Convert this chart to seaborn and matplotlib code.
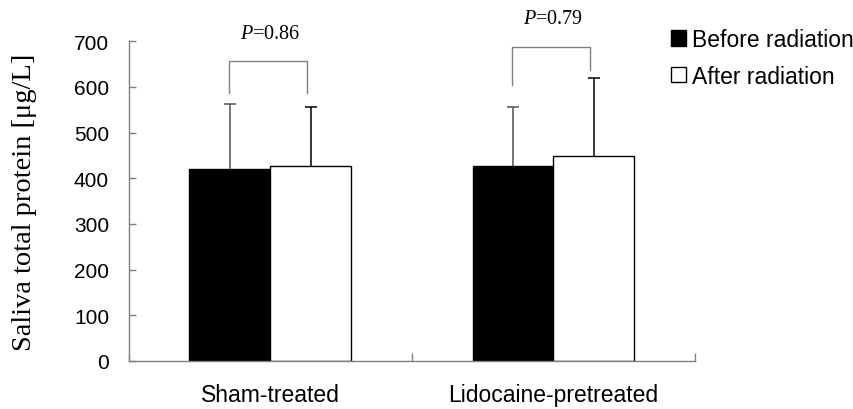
import matplotlib
matplotlib.use('Agg')
from matplotlib import pyplot as plt
import matplotlib.patches as mpatches
import numpy as np
import pandas as pd
import seaborn as sns

# values
groups = ['Sham-treated', 'Lidocaine-pretreated']
phases = ['Before radiation', 'After radiation']
before_mean = [420, 427]
after_mean = [426, 449]
before_sd = [143, 130]
after_sd = [130, 170]
p_values = ['0.86', '0.79']

plt.rcParams['font.family'] = ['Liberation Sans', 'DejaVu Sans']
plt.rcParams['mathtext.fontset'] = 'custom'
plt.rcParams['mathtext.it'] = 'Liberation Serif:italic'
plt.rcParams['mathtext.rm'] = 'Liberation Serif'

df = pd.DataFrame({
    'group': groups * 2,
    'phase': [phases[0]] * 2 + [phases[1]] * 2,
    'value': before_mean + after_mean,
    'sd': before_sd + after_sd,
})

fig = plt.figure(figsize=(8.54, 4.10), dpi=100)
ax = fig.add_axes([0.1505, 0.1171, 0.6633, 0.7797])

palette = {phases[0]: 'black', phases[1]: 'white'}
sns.barplot(data=df, x='group', y='value', hue='phase', order=groups,
            hue_order=phases, palette=palette, width=0.57, errorbar=None,
            edgecolor='black', linewidth=1.0, legend=False, ax=ax)

# error bars (upper only) at the centre of each bar
err_colors = {phases[0]: '#505050', phases[1]: 'black'}
centers = {}
for i, ph in enumerate(phases):
    sub = df[df['phase'] == ph].set_index('group').loc[groups]
    xs = np.arange(len(groups)) + (i - 0.5) * 0.57 / 2
    centers[ph] = xs
    _, caps, _ = ax.errorbar(xs, sub['value'],
                             yerr=[np.zeros(len(xs)), sub['sd']],
                             fmt='none', ecolor=err_colors[ph], elinewidth=1.1,
                             capsize=4, capthick=1.1, zorder=3)
    # hide the cap sitting on top of the bar
    for cap in caps:
        if np.allclose(cap.get_ydata(), sub['value'].values):
            cap.set_visible(False)

# significance brackets
bracket_top = [656, 688]
bracket_feet = [(587, 587), (604, 638)]
for k in range(len(groups)):
    x0 = centers[phases[0]][k] - 0.004
    x1 = centers[phases[1]][k] - 0.014
    y = bracket_top[k]
    ax.plot([x0, x0, x1, x1], [bracket_feet[k][0], y, y, bracket_feet[k][1]],
            color='#808080', lw=1.0, clip_on=False)
    ax.text(k, y + 52, r'$\mathit{P}$=' + p_values[k], ha='center',
            va='baseline', fontsize=14.5, family='Liberation Serif',
            clip_on=False)

ax.set_ylim(0, 700)
ax.set_xlim(-0.5, 1.5)
ax.set_yticks(np.arange(0, 701, 100))
ax.set_xticks([0, 1])
ax.set_xticks([-0.5, 0.5, 1.5], minor=True)
ax.tick_params(axis='y', direction='in', length=5, width=1, color='#808080',
               labelsize=15, pad=14)
ax.tick_params(axis='x', which='major', length=0, labelsize=16.5, pad=16)
ax.tick_params(axis='x', which='minor', direction='in', length=6, width=1,
               color='#808080')
for side in ['top', 'right']:
    ax.spines[side].set_visible(False)
for side in ['left', 'bottom']:
    ax.spines[side].set_color('#808080')
    ax.spines[side].set_linewidth(1.0)
ax.set_xlabel('')
ax.set_ylabel('Saliva total protein [μg/L]', family='Liberation Serif',
              fontsize=20.5)
ax.yaxis.set_label_coords(-0.162, 0.5)

handles = [mpatches.Patch(facecolor=palette[ph], edgecolor='black', lw=1.0)
           for ph in phases]
fig.legend(handles, phases, loc='upper left',
           bbox_to_anchor=(671 / 854, 1 - 29 / 410), frameon=False,
           fontsize=16.5, handlelength=0.66, handleheight=0.66,
           handletextpad=0.27, labelspacing=0.6, borderpad=0,
           borderaxespad=0)

fig.savefig('out.png', dpi=100)
